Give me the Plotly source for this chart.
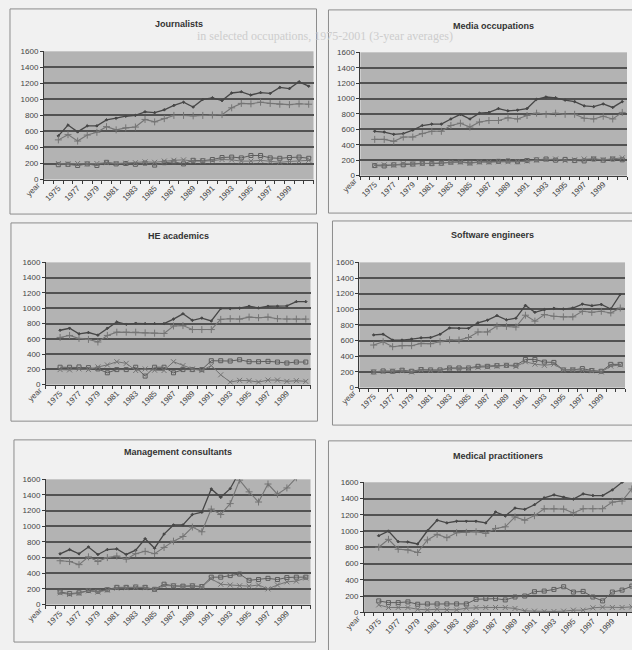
import plotly.graph_objects as go

# ---------------------------------------------------------------------------
# Data: 3-year averages for selected occupations, 1975-2001
# ---------------------------------------------------------------------------
YEARS = list(range(1975, 2002))
X_TICK_TEXT = [str(y) for y in range(1975, 2000, 2)]
X_TICK_POS = list(range(1975, 2000, 2))
X_FIRST_LABEL = "year"
Y_TICKS = list(range(0, 1601, 200))

journalists_a = [545, 680, 595, 670, 670, 745, 765, 790, 800, 845, 835, 870, 925, 965, 905,
                 1000, 1020, 985, 1080, 1095, 1055, 1085, 1075, 1150, 1135, 1220, 1165]
journalists_b = [495, 560, 480, 555, 590, 660, 620, 645, 655, 750, 720, 760, 800, 800, 795,
                 800, 805, 810, 895, 950, 945, 965, 950, 940, 935, 945, 940]
journalists_c = [185, 190, 175, 195, 175, 215, 195, 200, 190, 205, 180, 210, 220, 195, 240,
                 235, 250, 275, 280, 270, 300, 300, 270, 265, 275, 280, 265]
journalists_d = [200, 195, 200, 195, 200, 210, 200, 205, 210, 220, 215, 230, 240, 245, 230,
                 230, 235, 250, 245, 230, 230, 240, 225, 215, 225, 230, 240]

media_a = [575, 565, 535, 545, 590, 650, 668, 668, 735, 795, 735, 810, 820, 870, 840,
           850, 870, 990, 1020, 1010, 980, 960, 905, 895, 930, 885, 960]
media_b = [470, 470, 445, 500, 500, 545, 575, 575, 650, 680, 630, 695, 715, 715, 750,
           735, 780, 810, 795, 810, 795, 795, 745, 735, 770, 735, 820]
media_c = [130, 125, 140, 140, 150, 160, 155, 160, 175, 180, 165, 180, 180, 185, 190,
           180, 195, 205, 215, 200, 210, 195, 190, 215, 200, 215, 205]
media_d = [135, 140, 135, 155, 150, 155, 160, 165, 170, 175, 160, 175, 175, 180, 180,
           180, 190, 200, 210, 215, 195, 205, 215, 220, 205, 220, 230]

academics_a = [712, 738, 665, 682, 648, 738, 820, 790, 803, 798, 798, 798, 858, 927, 841,
               871, 833, 996, 996, 1000, 1026, 1004, 1026, 1026, 1030, 1086, 1086]
academics_b = [618, 644, 605, 592, 558, 644, 687, 687, 687, 678, 674, 670, 768, 773, 721,
               721, 721, 854, 863, 858, 884, 876, 884, 863, 858, 858, 858]
academics_c = [228, 228, 232, 223, 206, 155, 197, 197, 228, 112, 228, 228, 155, 197, 197,
               197, 313, 313, 309, 326, 300, 300, 305, 296, 283, 296, 296]
academics_d = [197, 193, 206, 197, 232, 258, 300, 279, 185, 206, 189, 185, 300, 249, 206,
               185, 249, 129, 34, 56, 52, 34, 60, 60, 43, 52, 43]

software_a = [673, 682, 607, 607, 620, 636, 640, 682, 762, 757, 757, 828, 862, 920, 866,
              887, 1050, 962, 996, 1012, 1004, 1017, 1067, 1046, 1063, 1004, 1192]
software_b = [544, 586, 523, 536, 536, 565, 561, 586, 611, 607, 640, 711, 711, 787, 782,
              774, 925, 849, 933, 912, 904, 904, 975, 962, 975, 954, 1017]
software_c = [200, 213, 209, 222, 209, 230, 226, 226, 251, 251, 251, 272, 272, 280, 285,
              285, 360, 360, 326, 322, 226, 226, 243, 218, 209, 297, 297]
software_d = [200, 205, 210, 215, 200, 225, 220, 220, 245, 240, 245, 260, 265, 275, 285,
              270, 330, 300, 285, 300, 225, 230, 220, 215, 200, 275, 290]

consultants_a = [648, 703, 648, 736, 640, 703, 711, 640, 695, 841, 720, 900, 1017, 1017, 1151,
                 1180, 1477, 1370, 1480, 1700, 1750, 1700, 1800, 1750, 1850, 1900, 1950]
consultants_b = [560, 550, 510, 610, 550, 600, 620, 580, 650, 680, 650, 730, 810, 870, 990,
                 930, 1220, 1150, 1290, 1590, 1440, 1310, 1540, 1410, 1490, 1620, 1700]
consultants_c = [160, 140, 150, 180, 170, 190, 220, 220, 225, 220, 195, 260, 240, 235, 240,
                 230, 350, 350, 370, 390, 310, 320, 335, 320, 345, 350, 350]
consultants_d = [150, 130, 145, 175, 160, 185, 210, 215, 220, 215, 190, 245, 235, 230, 235,
                 225, 330, 260, 250, 240, 235, 250, 200, 250, 290, 300, 340]

medical_a = [943, 1000, 870, 866, 842, 1004, 1134, 1101, 1121, 1121, 1121, 1101, 1235, 1186, 1283,
             1267, 1324, 1409, 1445, 1417, 1393, 1457, 1437, 1437, 1506, 1600, 1650]
medical_b = [802, 899, 777, 769, 737, 891, 960, 919, 980, 984, 992, 972, 1032, 1053, 1174,
             1134, 1190, 1275, 1275, 1271, 1223, 1275, 1275, 1275, 1356, 1369, 1518]
medical_c = [142, 121, 121, 130, 101, 105, 105, 105, 105, 105, 162, 170, 170, 154, 190,
             202, 255, 263, 283, 316, 251, 259, 190, 142, 251, 275, 324]
medical_d = [93, 61, 61, 61, 40, 32, 40, 32, 32, 53, 61, 61, 61, 61, 49,
             20, 16, 12, 12, 16, 28, 28, 57, 65, 61, 61, 69]

TITLES = ["Journalists", "Media occupations", "HE academics",
          "Software engineers", "Management consultants", "Medical practitioners"]
SERIES = [
    [journalists_a, journalists_b, journalists_c, journalists_d],
    [media_a, media_b, media_c, media_d],
    [academics_a, academics_b, academics_c, academics_d],
    [software_a, software_b, software_c, software_d],
    [consultants_a, consultants_b, consultants_c, consultants_d],
    [medical_a, medical_b, medical_c, medical_d],
]

# ---------------------------------------------------------------------------
# Page geometry (pixels) for each chart: plot area, outer frame, title row
# ---------------------------------------------------------------------------
W, H = 632, 650
PLOT_BOX = [(43, 313, 48, 178), (360, 627, 49, 174),
            (45, 310, 262, 386), (359, 625, 262, 389),
            (45, 310, 482, 609), (363.7, 632, 485, 617)]
X_RANGES = [(1973.5, 2001.5)] * 5 + [(1973.5, 2001.02)]
FRAMES = [(9, 316, 5, 213), (328, 640, 6, 212),
          (10, 317, 222, 423), (332, 640, 220, 427),
          (13, 315, 442, 647), (328, 640, 443, 660)]
TITLE_Y = [20, 22, 235, 234, 454, 458]

LINE_STYLES = [
    dict(color="#474747", width=1.3, symbol="diamond", size=2),
    dict(color="#757575", width=1.1, symbol="cross-thin-open", size=5),
    dict(color="#5e5e5e", width=1.0, symbol="square-open", size=4),
    dict(color="#747474", width=1.0, symbol="x-thin-open", size=5),
]

FONT = "Arial, Liberation Sans, sans-serif"
TICK_FONT = dict(family=FONT, size=8, color="#454545")

fig = go.Figure()
shapes, annotations = [], []

# faint print showing through the page behind the charts
annotations.append(dict(text="in selected occupations, 1975-2001 (3-year averages)",
                        xref="paper", yref="paper", x=325 / W, y=1 - 32 / H,
                        xanchor="center", yanchor="middle", showarrow=False,
                        font=dict(family="Liberation Serif, serif", size=12, color="#cdcdcd")))

for i, (title, series) in enumerate(zip(TITLES, SERIES)):
    n = "" if i == 0 else str(i + 1)
    x0, x1, y0, y1 = PLOT_BOX[i]
    dom_x = [x0 / W, min(x1 / W, 1.0)]
    dom_y = [1 - y1 / H, 1 - y0 / H]

    for k, vals in enumerate(series):
        st = LINE_STYLES[k]
        fig.add_trace(go.Scatter(
            x=YEARS, y=vals, mode="lines+markers",
            line=dict(color=st["color"], width=st["width"]),
            marker=dict(symbol=st["symbol"], size=st["size"], color=st["color"],
                        line=dict(color=st["color"], width=1)),
            xaxis="x" + n, yaxis="y" + n, showlegend=False,
            cliponaxis=True,
        ))

    fig.layout["xaxis" + n] = dict(
        domain=dom_x, anchor="y" + n, range=list(X_RANGES[i]),
        tickmode="array", tickvals=X_TICK_POS, ticktext=X_TICK_TEXT,
        tickangle=-45, ticks="", showgrid=False, zeroline=False,
        showline=True, linecolor="#3a3a3a", linewidth=1,
        tickfont=TICK_FONT,
        minor=dict(tickmode="linear", tick0=1973.5, dtick=1, ticks="outside",
                   ticklen=3, tickcolor="#3a3a3a", showgrid=False),
        fixedrange=True,
    )
    fig.layout["yaxis" + n] = dict(
        domain=dom_y, anchor="x" + n, range=[0, 1600],
        tickmode="array", tickvals=Y_TICKS,
        ticks="outside", ticklen=3, tickcolor="#3a3a3a",
        showgrid=True, gridcolor="#525252", gridwidth=1.5,
        zeroline=False, showline=True, linecolor="#3a3a3a", linewidth=1,
        tickfont=TICK_FONT,
        fixedrange=True,
    )

    # the leading category label sits just left of the plot area
    annotations.append(dict(text=X_FIRST_LABEL, xref="paper", yref="paper",
                            x=(x0 + 1) / W, y=1 - (y1 - 2) / H, textangle=-45,
                            xanchor="right", yanchor="top", showarrow=False,
                            font=TICK_FONT))

    fx0, fx1, fy0, fy1 = FRAMES[i]
    shapes.append(dict(type="rect", xref="paper", yref="paper",
                       x0=fx0 / W, x1=fx1 / W, y0=1 - fy1 / H, y1=1 - fy0 / H,
                       line=dict(color="#8c8c8c", width=1), fillcolor="rgba(0,0,0,0)",
                       layer="below"))
    annotations.append(dict(text="<b>%s</b>" % title, xref="paper", yref="paper",
                            x=((x0 + x1) / 2) / W, y=1 - TITLE_Y[i] / H,
                            xanchor="center", yanchor="middle", showarrow=False,
                            font=dict(family=FONT, size=9, color="#333333")))

fig.update_layout(
    width=W, height=H, margin=dict(l=0, r=0, t=0, b=0),
    paper_bgcolor="#f1f1f1", plot_bgcolor="#b3b3b3",
    shapes=shapes, annotations=annotations,
)

fig.write_html("out.html")
